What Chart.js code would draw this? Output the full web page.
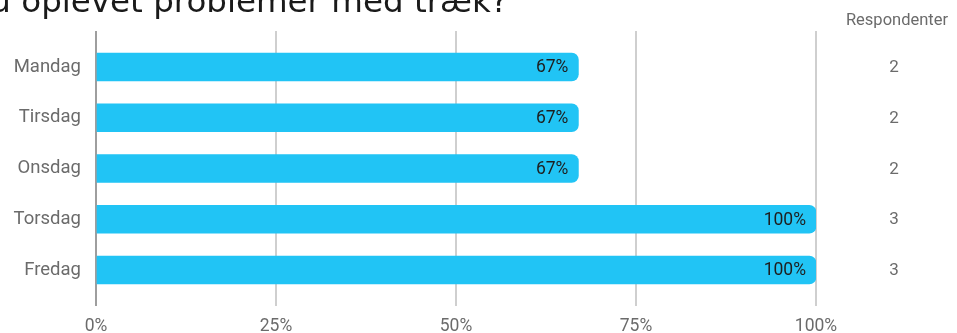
<!DOCTYPE html>
<html>
<head>
<meta charset="utf-8">
<script src="https://cdn.jsdelivr.net/npm/chart.js@4/dist/chart.umd.min.js"></script>
<style>
  html, body { margin: 0; padding: 0; background: #fff; }
  #wrap { width: 957px; height: 333px; position: relative; }
</style>
</head>
<body>
<div id="wrap"><canvas id="chart"></canvas></div>
<script>
const title = 'Hvilke dage har du oplevet problemer med træk?';
const days = ['Mandag', 'Tirsdag', 'Onsdag', 'Torsdag', 'Fredag'];
const percent = [67, 67, 67, 100, 100];
const respondents = [2, 2, 2, 3, 3];
const xTicks = [0, 25, 50, 75, 100];

const barColor = '#21c4f5';
const tickColor = '#6b6b6b';

// title, bar value labels and the respondent column on the right
const extras = {
  id: 'extras',
  afterDatasetsDraw(chart) {
    const ctx = chart.ctx;
    const meta = chart.getDatasetMeta(0);
    const yScale = chart.scales.y;
    ctx.save();

    ctx.font = '32.5px "DejaVu Sans"';
    ctx.fillStyle = '#1a1a1a';
    ctx.textAlign = 'right';
    ctx.textBaseline = 'alphabetic';
    ctx.fillText(title, 508, 12);

    ctx.font = '17.5px Roboto';
    ctx.fillStyle = '#1e1e1e';
    ctx.textBaseline = 'middle';
    meta.data.forEach((bar, i) => {
      ctx.fillText(percent[i] + '%', bar.x - 10, bar.y + 1);
    });

    ctx.textAlign = 'center';
    ctx.fillStyle = tickColor;
    ctx.font = '16.5px Roboto';
    ctx.fillText('Respondenter', 897, 21);
    ctx.font = '17px Roboto';
    respondents.forEach((r, i) => {
      ctx.fillText(String(r), 894, yScale.getPixelForValue(i) + 1);
    });
    ctx.restore();
  }
};

new Chart(document.getElementById('chart'), {
  type: 'bar',
  data: {
    datasets: [{
      data: percent.map((v, i) => ({ x: v, y: i })),
      backgroundColor: barColor,
      borderWidth: 0,
      borderRadius: 7,
      borderSkipped: 'start',
      barThickness: 28
    }]
  },
  options: {
    indexAxis: 'y',
    responsive: true,
    maintainAspectRatio: false,
    animation: false,
    layout: { padding: { top: 31, right: 141, left: 0, bottom: 0 } },
    plugins: { legend: { display: false }, tooltip: { enabled: false } },
    scales: {
      x: {
        type: 'linear',
        min: 0,
        max: 100,
        afterBuildTicks: (scale) => { scale.ticks = xTicks.map(v => ({ value: v })); },
        grid: {
          color: (c) => c.tick && c.tick.value === 0 ? '#9e9e9e' : '#cfcfcf',
          lineWidth: 2,
          drawTicks: false
        },
        border: { display: false },
        ticks: {
          color: tickColor,
          font: { family: 'Roboto', size: 17.5 },
          padding: 10,
          maxRotation: 0,
          callback: (v) => v + '%'
        },
        afterFit: (scale) => { scale.height = 27; }
      },
      y: {
        type: 'linear',
        reverse: true,
        offset: false,
        min: -0.71,
        max: 4.71,
        afterBuildTicks: (scale) => { scale.ticks = days.map((d, i) => ({ value: i })); },
        grid: { display: false, drawTicks: false, offset: false },
        border: { display: false },
        ticks: {
          color: tickColor,
          font: { family: 'Roboto', size: 18.5 },
          padding: 15,
          callback: (v) => days[v]
        },
        afterFit: (scale) => { scale.width = 96; }
      }
    }
  },
  plugins: [extras]
});
</script>
</body>
</html>
